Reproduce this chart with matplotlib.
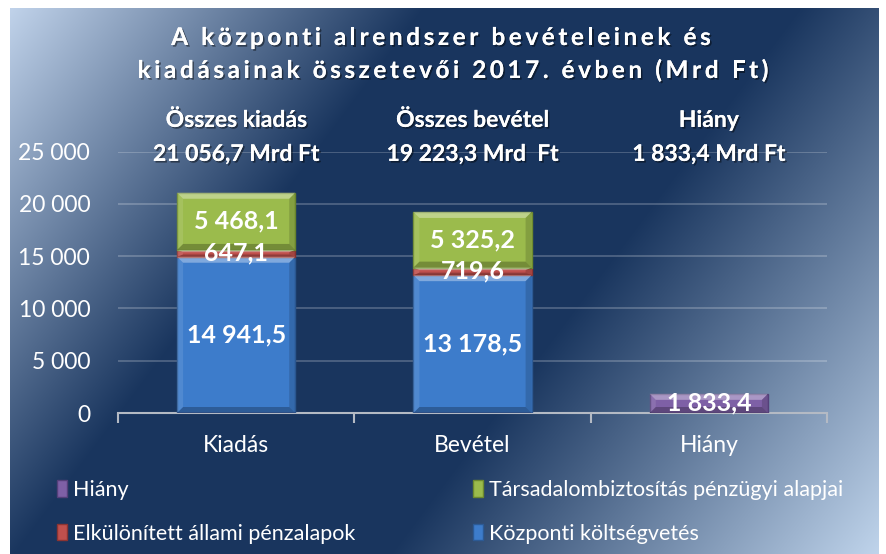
import numpy as np
import matplotlib
matplotlib.use("Agg")
import matplotlib.pyplot as plt
import matplotlib.patheffects as pe
from matplotlib.patches import Patch
from matplotlib.font_manager import FontProperties

# data (Mrd Ft)
categories = ["Kiadás", "Bevétel", "Hiány"]
kozponti = [14941.5, 13178.5, 0]
elkulonitett = [647.1, 719.6, 0]
tarsadalom = [5468.1, 5325.2, 0]
hiany = [0, 0, 1833.4]
total_titles = ["Összes kiadás", "Összes bevétel", "Hiány"]
total_values = ["21 056,7 Mrd Ft", "19 223,3 Mrd  Ft", "1 833,4 Mrd Ft"]
yticks = [0, 5000, 10000, 15000, 20000, 25000]
title_lines = ["A központi alrendszer bevételeinek és",
               "kiadásainak összetevői 2017. évben (Mrd Ft)"]

FONT = "Lato"
plt.rcParams["font.family"] = [FONT, "DejaVu Sans"]

W, H = 886, 554
fig = plt.figure(figsize=(W / 100, H / 100), dpi=100)
fig.patch.set_facecolor("white")

# background gradient: light corners, dark navy diagonal band
bg = fig.add_axes([10 / W, 0, 869 / W, 546 / H], zorder=-10)
xx, yy = np.meshgrid(np.arange(869), np.arange(546))
s = (xx + 10 + 0.75 * (yy + 8)) / 1300.0
light1 = np.array([0.78, 0.85, 0.94])
dark = np.array([0.10, 0.21, 0.37])
light2 = np.array([0.76, 0.84, 0.93])
stops = [0.0, 0.33, 0.62, 1.0]
img = np.zeros(s.shape + (3,))
for c in range(3):
    img[..., c] = np.interp(s, stops, [light1[c], dark[c], dark[c], light2[c]])
bg.imshow(img, aspect="auto", interpolation="bilinear")
bg.axis("off")

ax = fig.add_axes([118 / W, (H - 413) / H, 709 / W, 261.5 / H])
ax.patch.set_alpha(0)

blue = "#3d7ccb"
red = "#c0504d"
green = "#9bbb4c"
purple = "#7e60a6"

x = np.arange(len(categories))
width = 0.5
b1 = ax.bar(x, kozponti, width, color=blue, edgecolor="#2c5a95", linewidth=1, zorder=3)
b2 = ax.bar(x, elkulonitett, width, bottom=kozponti, color=red, edgecolor="#8c3432", linewidth=1, zorder=3)
bottom3 = np.array(kozponti) + np.array(elkulonitett)
b3 = ax.bar(x, tarsadalom, width, bottom=bottom3, color=green, edgecolor="#6d8a2e", linewidth=1, zorder=3)
b4 = ax.bar(x, hiany, width, color=purple, edgecolor="#54407a", linewidth=1, zorder=3)

ax.set_xlim(-0.5, 2.5)
ax.set_ylim(0, 25000)

# bevel look on every bar segment (6 px wide)
px_x = 3.0 / 709
px_y = 25000 / 261.5
for bars in [b1, b2, b3, b4]:
    for p in bars:
        x0, y0, w, h = p.get_x(), p.get_y(), p.get_width(), p.get_height()
        if h <= 0:
            continue
        bx = 6 * px_x
        by = min(6 * px_y, h / 3)
        x1, y1 = x0 + w, y0 + h
        ax.fill([x0, x1, x1 - bx, x0 + bx], [y1, y1, y1 - by, y1 - by], color="white", alpha=0.35, lw=0, zorder=4)
        ax.fill([x0, x1, x1 - bx, x0 + bx], [y0, y0, y0 + by, y0 + by], color="black", alpha=0.25, lw=0, zorder=4)
        ax.fill([x0, x0 + bx, x0 + bx, x0], [y0, y0 + by, y1 - by, y1], color="white", alpha=0.10, lw=0, zorder=4)
        ax.fill([x1, x1 - bx, x1 - bx, x1], [y0, y0 + by, y1 - by, y1], color="black", alpha=0.15, lw=0, zorder=4)


def hu(v):
    return f"{v:,.1f}".replace(",", " ").replace(".", ",")


shadow = [pe.withSimplePatchShadow(offset=(1.2, -1.2), shadow_rgbFace="black", alpha=0.45), pe.Normal()]

for bars, vals, bots in [(b1, kozponti, np.zeros(3)), (b2, elkulonitett, np.array(kozponti)),
                         (b3, tarsadalom, bottom3), (b4, hiany, np.zeros(3))]:
    for i, v in enumerate(vals):
        if v > 0:
            ax.text(x[i], bots[i] + v / 2, hu(v), ha="center", va="center", color="white",
                    fontsize=18, fontweight="bold", zorder=5)

# totals above the bars
tr = ax.get_xaxis_transform()
for i in range(len(categories)):
    ax.text(x[i], 1.094, total_titles[i], transform=tr, ha="center", va="baseline",
            color="white", fontsize=16.5, fontweight="bold", path_effects=shadow, clip_on=False)
    ax.text(x[i], 0.964, total_values[i], transform=tr, ha="center", va="baseline",
            color="white", fontsize=16.5, fontweight="bold", path_effects=shadow, clip_on=False, zorder=5)

ax.set_yticks(yticks)
ax.set_yticklabels([f"{t:,}".replace(",", " ") for t in yticks])
ax.set_xticks(x)
ax.set_xticklabels(categories)
ax.set_xticks([-0.5, 0.5, 1.5, 2.5], minor=True)
ax.tick_params(axis="y", length=0, pad=20, labelsize=16.5, labelcolor="white")
ax.tick_params(axis="x", which="major", length=0, pad=16, labelsize=16.5, labelcolor="white")
ax.tick_params(axis="x", which="minor", length=7, width=1.5, color="#b4bac4")
ax.grid(axis="y", color="white", alpha=0.25, linewidth=1.2, zorder=0)
for sp in ["top", "right", "left"]:
    ax.spines[sp].set_visible(False)
ax.spines["bottom"].set_color("#b4bac4")
ax.spines["bottom"].set_linewidth(1.5)
ax.spines["bottom"].set_zorder(2)

# legends, two columns placed separately
leg_kw = dict(frameon=False, fontsize=15.5, labelcolor="white", handlelength=0.45, handleheight=0.8,
              handletextpad=0.3, labelspacing=1.1, borderpad=0, borderaxespad=0, loc="upper left")
leg1 = fig.legend([Patch(facecolor=purple, edgecolor="#54407a"), Patch(facecolor=red, edgecolor="#8c3432")],
                  ["Hiány", "Elkülönített állami pénzalapok"],
                  bbox_to_anchor=(57 / W, 1 - 480 / H), **leg_kw)
leg2 = fig.legend([Patch(facecolor=green, edgecolor="#6d8a2e"), Patch(facecolor=blue, edgecolor="#2c5a95")],
                  ["Társadalombiztosítás pénzügyi alapjai", "Központi költségvetés"],
                  bbox_to_anchor=(473 / W, 1 - 480 / H), **leg_kw)

# letter-spaced title
renderer = fig.canvas.get_renderer()
fp = FontProperties(family=FONT, weight="bold", size=17.5)


def text_w(t):
    a = renderer.get_text_width_height_descent(t + "|", fp, ismath=False)[0]
    b = renderer.get_text_width_height_descent("|", fp, ismath=False)[0]
    return a - b


def spaced_title(line, xc, y_base, spacing):
    total = text_w(line) + spacing * (len(line) - 1)
    x0 = xc - total / 2
    for i, ch in enumerate(line):
        if ch == " ":
            continue
        px = x0 + text_w(line[:i]) + i * spacing
        fig.text(px / W, 1 - y_base / H, ch, ha="left", va="baseline", fontproperties=fp,
                 color="white", path_effects=shadow)


spaced_title(title_lines[0], 441, 45, 3.6)
spaced_title(title_lines[1], 453, 78, 3.6)

fig.savefig("out.png", dpi=100, facecolor="white")
